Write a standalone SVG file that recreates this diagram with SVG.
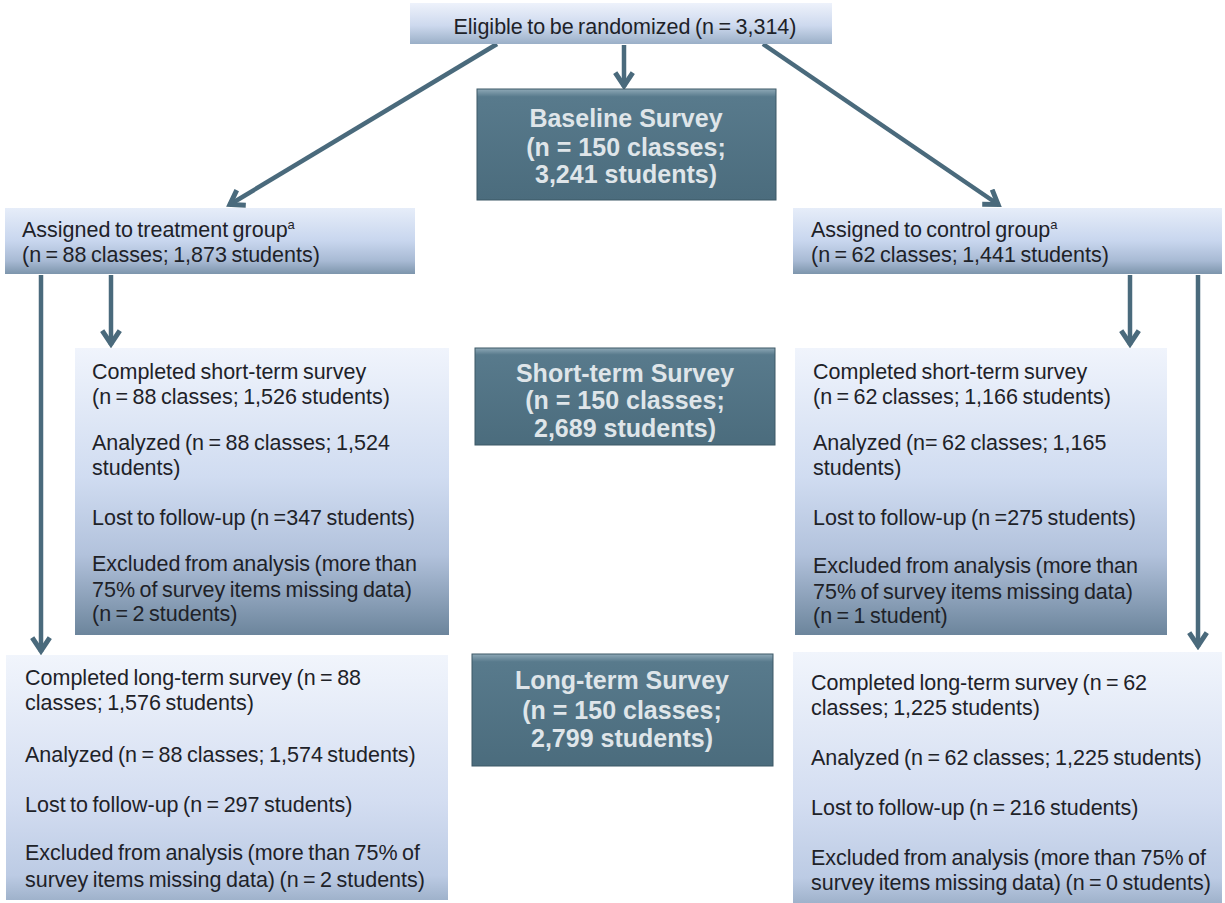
<svg xmlns="http://www.w3.org/2000/svg" width="1225" height="903" viewBox="0 0 1225 903">
<style>
.t{font-family:"Liberation Sans",Arial,sans-serif;font-size:21.5px;fill:#1e2228;word-spacing:-1.5px}
.d{font-family:"Liberation Sans",Arial,sans-serif;font-size:25px;font-weight:bold;fill:#dfe5e9;text-anchor:middle}
.dark{fill:url(#gDark);stroke:#3d5967;stroke-width:1}
.conn{stroke:#4a6a7c;stroke-width:4.5;fill:none;marker-end:url(#ah)}
</style>
<defs>
<linearGradient id="gTop" x1="0" y1="0" x2="0" y2="1">
<stop offset="0" stop-color="#eef2fb"/><stop offset="0.55" stop-color="#cdd9ee"/><stop offset="1" stop-color="#9aafc7"/>
</linearGradient>
<linearGradient id="gAssign" x1="0" y1="0" x2="0" y2="1">
<stop offset="0" stop-color="#e6edf9"/><stop offset="0.5" stop-color="#c8d6ee"/><stop offset="0.8" stop-color="#a8bad4"/><stop offset="1" stop-color="#7d95ac"/>
</linearGradient>
<linearGradient id="gShort" x1="0" y1="0" x2="0" y2="1">
<stop offset="0" stop-color="#f0f4fc"/><stop offset="0.45" stop-color="#d0dcf1"/><stop offset="0.72" stop-color="#b2c2dc"/><stop offset="1" stop-color="#6c859c"/>
</linearGradient>
<linearGradient id="gLong" x1="0" y1="0" x2="0" y2="1">
<stop offset="0" stop-color="#f1f5fc"/><stop offset="0.6" stop-color="#d3ddf1"/><stop offset="0.9" stop-color="#bccbe4"/><stop offset="1" stop-color="#9fb2cb"/>
</linearGradient>
<linearGradient id="gDark" x1="0" y1="0" x2="0" y2="1">
<stop offset="0" stop-color="#8fa9b7"/><stop offset="0.07" stop-color="#587a8c"/><stop offset="1" stop-color="#4b6c7d"/>
</linearGradient>
<marker id="ah" viewBox="0 0 20 20" refX="17" refY="10" markerWidth="22" markerHeight="22" markerUnits="userSpaceOnUse" orient="auto">
<path d="M4,2 L16,10 L4,18" fill="none" stroke="#4a6a7c" stroke-width="4.5" stroke-linejoin="miter"/>
</marker>
</defs>
<rect width="1225" height="903" fill="#ffffff"/>

<g id="connectors">
<line class="conn" x1="624" y1="45" x2="624" y2="87"/>
<line class="conn" x1="497" y1="44" x2="229" y2="205"/>
<line class="conn" x1="763" y1="44" x2="999" y2="205"/>
<line class="conn" x1="41" y1="275" x2="41" y2="652"/>
<line class="conn" x1="111" y1="275" x2="111" y2="345"/>
<line class="conn" x1="1130" y1="275" x2="1130" y2="345"/>
<line class="conn" x1="1198" y1="275" x2="1198" y2="647"/>
</g>

<g id="eligible">
<rect x="410" y="3" width="422" height="41" fill="url(#gTop)"/>
<text class="t" x="625" y="34" text-anchor="middle">Eligible to be randomized (n = 3,314)</text>
</g>

<g id="baseline">
<rect class="dark" x="477" y="89" width="299" height="111"/>
<text class="d" x="626" y="127">Baseline Survey</text>
<text class="d" x="626" y="156">(n = 150 classes;</text>
<text class="d" x="626" y="183">3,241 students)</text>
</g>

<g id="treatment">
<rect x="5" y="208" width="410" height="66" fill="url(#gAssign)"/>
<text class="t" x="22" y="237">Assigned to treatment group<tspan font-size="13" dy="-8">a</tspan></text>
<text class="t" x="22" y="262">(n = 88 classes; 1,873 students)</text>
</g>

<g id="control">
<rect x="793" y="208" width="429" height="66" fill="url(#gAssign)"/>
<text class="t" x="811" y="237">Assigned to control group<tspan font-size="13" dy="-8">a</tspan></text>
<text class="t" x="811" y="262">(n = 62 classes; 1,441 students)</text>
</g>

<g id="short-treatment">
<rect x="75" y="348" width="374" height="287" fill="url(#gShort)"/>
<text class="t" x="92" y="379">Completed short-term survey</text>
<text class="t" x="92" y="404">(n = 88 classes; 1,526 students)</text>
<text class="t" x="92" y="450">Analyzed  (n = 88 classes; 1,524</text>
<text class="t" x="92" y="475">students)</text>
<text class="t" x="92" y="525">Lost to follow-up (n =347 students)</text>
<text class="t" x="92" y="571">Excluded from analysis (more than</text>
<text class="t" x="92" y="597">75% of survey items missing data)</text>
<text class="t" x="92" y="621">(n = 2 students)</text>
</g>

<g id="short-survey">
<rect class="dark" x="475" y="348" width="300" height="97"/>
<text class="d" x="625" y="382">Short-term Survey</text>
<text class="d" x="625" y="409">(n = 150 classes;</text>
<text class="d" x="625" y="437">2,689 students)</text>
</g>

<g id="short-control">
<rect x="795" y="348" width="372" height="287" fill="url(#gShort)"/>
<text class="t" x="813" y="379">Completed short-term survey</text>
<text class="t" x="813" y="404">(n = 62 classes; 1,166 students)</text>
<text class="t" x="813" y="450">Analyzed  (n= 62 classes; 1,165</text>
<text class="t" x="813" y="475">students)</text>
<text class="t" x="813" y="525">Lost to follow-up (n =275 students)</text>
<text class="t" x="813" y="573">Excluded from analysis (more than</text>
<text class="t" x="813" y="599">75% of survey items missing data)</text>
<text class="t" x="813" y="623">(n = 1 student)</text>
</g>

<g id="long-treatment">
<rect x="6" y="655" width="442" height="245" fill="url(#gLong)"/>
<text class="t" x="25" y="685">Completed long-term survey (n = 88</text>
<text class="t" x="25" y="710">classes; 1,576 students)</text>
<text class="t" x="25" y="762">Analyzed  (n = 88 classes; 1,574 students)</text>
<text class="t" x="25" y="812">Lost to follow-up (n = 297 students)</text>
<text class="t" x="25" y="860">Excluded from analysis (more than 75% of</text>
<text class="t" x="25" y="887">survey  items missing data) (n = 2 students)</text>
</g>

<g id="long-survey">
<rect class="dark" x="472" y="654" width="301" height="112"/>
<text class="d" x="622" y="689">Long-term Survey</text>
<text class="d" x="622" y="719">(n =  150 classes;</text>
<text class="d" x="622" y="747">2,799 students)</text>
</g>

<g id="long-control">
<rect x="793" y="652" width="429" height="251" fill="url(#gLong)"/>
<text class="t" x="811" y="690">Completed long-term survey (n = 62</text>
<text class="t" x="811" y="715">classes; 1,225 students)</text>
<text class="t" x="811" y="765">Analyzed  (n = 62 classes; 1,225 students)</text>
<text class="t" x="811" y="815">Lost to follow-up (n = 216 students)</text>
<text class="t" x="811" y="865">Excluded from analysis (more than 75% of</text>
<text class="t" x="811" y="890">survey  items missing data) (n = 0 students)</text>
</g>
</svg>
